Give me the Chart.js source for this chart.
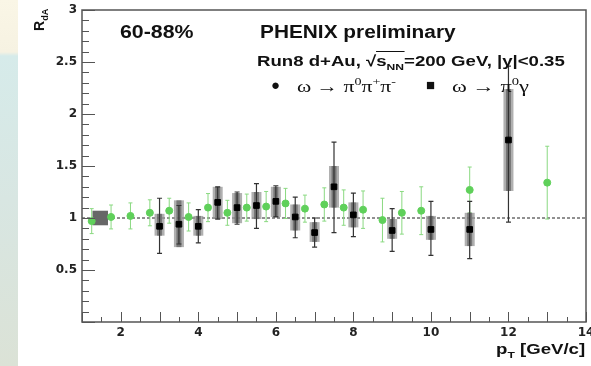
<!DOCTYPE html>
<html>
<head>
<meta charset="utf-8">
<script src="https://cdn.jsdelivr.net/npm/chart.js@4"></script>
<style>
  body { margin: 0; background: #fff; }
  #wrap { position: relative; width: 591px; height: 366px; overflow: hidden; font-family: "Liberation Sans", Arial, sans-serif; }
  #strip { position: absolute; left: 0; top: 0; width: 18px; height: 366px;
    background: linear-gradient(to bottom, #faf6e6 0px, #f6f2e2 52px, #d6ebea 56px, #d8e6e2 200px, #dbe2d6 366px); }
  #chartBox { position: absolute; left: 0; top: 0; width: 591px; height: 366px; }
  .lbl { position: absolute; white-space: nowrap; font-weight: bold; color: #111; transform-origin: left top; }
  .serif { font-family: "Liberation Serif", "DejaVu Serif", serif; font-weight: normal; }
  sub, sup { font-size: 65%; }
</style>
</head>
<body>
<div id="wrap">
  <div id="strip"></div>
  <div id="chartBox"><canvas id="rdaChart" width="591" height="366"></canvas></div>
  <div class="lbl" style="left:120px; top:22px; font-size:17.5px; transform:scaleX(1.22);">60-88%</div>
  <div class="lbl" style="left:260px; top:22px; font-size:17.5px; transform:scaleX(1.19);">PHENIX preliminary</div>
  <div class="lbl" style="left:257px; top:52px; font-size:15px; transform:scaleX(1.24);">Run8 d+Au, &radic;<span style="border-top:1.5px solid #111;">s<sub>NN</sub></span>=200 GeV, |y|&lt;0.35</div>
  <div class="lbl" style="left:271px; top:76px; font-size:15px;">&#9679;</div>
  <div class="lbl serif" style="left:297px; top:75px; font-size:17px; transform:scaleX(1.27);">&omega; &rarr; &pi;<sup>0</sup>&pi;<sup>+</sup>&pi;<sup>-</sup></div>
  <div class="lbl" style="left:426px; top:76px; font-size:15px;">&#9632;</div>
  <div class="lbl serif" style="left:452px; top:75px; font-size:17px; transform:scaleX(1.32);">&omega; &rarr; &pi;<sup>0</sup>&gamma;</div>
  <div class="lbl" style="left:31px; top:31px; font-size:14px; transform:rotate(-90deg);">R<sub>dA</sub></div>
  <div class="lbl" style="left:496px; top:341px; font-size:14px; transform:scaleX(1.33);">p<sub>T</sub> [GeV/c]</div>
</div>
<script>
// omega -> pi0 pi+ pi- (green points, symmetric errors)
const greenX = [1.25, 1.75, 2.25, 2.75, 3.25, 3.75, 4.25, 4.75, 5.25, 5.75, 6.25, 6.75, 7.25, 7.75, 8.25, 8.75, 9.25, 9.75, 11, 13];
const greenY = [0.97, 1.01, 1.02, 1.05, 1.07, 1.01, 1.10, 1.05, 1.10, 1.11, 1.14, 1.09, 1.13, 1.10, 1.08, 0.98, 1.05, 1.07, 1.27, 1.34];
const greenErr = [0.12, 0.115, 0.125, 0.125, 0.12, 0.135, 0.135, 0.12, 0.13, 0.145, 0.145, 0.13, 0.16, 0.17, 0.18, 0.21, 0.205, 0.23, 0.22, 0.35];

// omega -> pi0 gamma (black squares, stat bars + syst boxes)
const blackX = [3, 3.5, 4, 4.5, 5, 5.5, 6, 6.5, 7, 7.5, 8, 9, 10, 11, 12];
const blackY = [0.92, 0.94, 0.92, 1.15, 1.10, 1.12, 1.16, 1.01, 0.86, 1.30, 1.03, 0.88, 0.89, 0.89, 1.75];
const statLo = [0.66, 0.75, 0.76, 0.99, 0.94, 0.90, 1.01, 0.81, 0.72, 0.86, 0.82, 0.68, 0.64, 0.61, 0.96];
const statHi = [1.19, 1.12, 1.08, 1.30, 1.25, 1.33, 1.31, 1.20, 1.00, 1.73, 1.24, 1.09, 1.16, 1.16, 2.46];
const sysLo = [0.83, 0.72, 0.83, 0.99, 0.95, 0.99, 1.01, 0.88, 0.77, 1.10, 0.91, 0.80, 0.79, 0.73, 1.26];
const sysHi = [1.04, 1.17, 1.02, 1.30, 1.24, 1.25, 1.30, 1.13, 0.96, 1.50, 1.15, 0.99, 1.02, 1.05, 2.24];

// global normalisation box
const normBox = { x0: 1.27, x1: 1.67, y0: 0.93, y1: 1.07 };
const xTickLabels = [2, 4, 6, 8, 10, 12, 14];
const yTickLabels = [0.5, 1, 1.5, 2, 2.5, 3];

const near = (a, b) => Math.abs(a - b) < 1e-6;

const errorPlugin = {
  id: "errors",
  beforeDatasetsDraw(chart) {
    const { ctx, chartArea: a, scales: { x, y } } = chart;
    ctx.save();
    // reference line at 1
    ctx.strokeStyle = "#222";
    ctx.lineWidth = 1;
    ctx.setLineDash([3, 2]);
    ctx.beginPath();
    ctx.moveTo(a.left, y.getPixelForValue(1));
    ctx.lineTo(a.right, y.getPixelForValue(1));
    ctx.stroke();
    ctx.setLineDash([]);

    // norm box
    ctx.fillStyle = "#676767";
    const nx0 = x.getPixelForValue(normBox.x0), nx1 = x.getPixelForValue(normBox.x1);
    const ny0 = y.getPixelForValue(normBox.y1), ny1 = y.getPixelForValue(normBox.y0);
    ctx.fillRect(nx0, ny0, nx1 - nx0, ny1 - ny0);

    // green error bars
    ctx.strokeStyle = "#8ad981";
    ctx.lineWidth = 1;
    greenX.forEach((v, i) => {
      const px = x.getPixelForValue(v);
      const top = y.getPixelForValue(greenY[i] + greenErr[i]);
      const bot = y.getPixelForValue(greenY[i] - greenErr[i]);
      ctx.beginPath();
      ctx.moveTo(px, top); ctx.lineTo(px, bot);
      ctx.moveTo(px - 2, top); ctx.lineTo(px + 2, top);
      ctx.moveTo(px - 2, bot); ctx.lineTo(px + 2, bot);
      ctx.stroke();
    });

    // syst boxes
    blackX.forEach((v, i) => {
      const px = x.getPixelForValue(v);
      const top = y.getPixelForValue(sysHi[i]);
      const bot = y.getPixelForValue(sysLo[i]);
      ctx.fillStyle = "rgba(150,150,150,0.75)";
      ctx.fillRect(px - 5, top, 10, bot - top);
      ctx.fillStyle = "rgba(95,95,95,0.7)";
      ctx.fillRect(px - 2.5, top, 5, bot - top);
    });

    // stat bars
    ctx.strokeStyle = "#333";
    ctx.lineWidth = 1.2;
    blackX.forEach((v, i) => {
      const px = x.getPixelForValue(v);
      const top = y.getPixelForValue(statHi[i]);
      const bot = y.getPixelForValue(statLo[i]);
      ctx.beginPath();
      ctx.moveTo(px, top); ctx.lineTo(px, bot);
      ctx.moveTo(px - 2.5, top); ctx.lineTo(px + 2.5, top);
      ctx.moveTo(px - 2.5, bot); ctx.lineTo(px + 2.5, bot);
      ctx.stroke();
    });
    ctx.restore();
  },
  afterDraw(chart) {
    const { ctx, chartArea: a, scales: { x, y } } = chart;
    ctx.save();
    ctx.strokeStyle = "#555";
    ctx.lineWidth = 1.5;
    ctx.strokeRect(a.left, a.top, a.right - a.left, a.bottom - a.top);
    ctx.lineWidth = 1;
    ctx.beginPath();
    y.ticks.forEach(t => {
      const py = Math.round(y.getPixelForValue(t.value)) + 0.5;
      const len = near(t.value * 2, Math.round(t.value * 2)) ? 13 : 7;
      ctx.moveTo(a.left, py); ctx.lineTo(a.left + len, py);
    });
    x.ticks.forEach(t => {
      const px = Math.round(x.getPixelForValue(t.value)) + 0.5;
      const len = near(t.value, Math.round(t.value)) ? 10 : 5;
      ctx.moveTo(px, a.bottom); ctx.lineTo(px, a.bottom - len);
    });
    ctx.stroke();
    ctx.restore();
  }
};

const tickFont = { family: "'DejaVu Sans', sans-serif", size: 12, weight: "bold" };

new Chart(document.getElementById("rdaChart").getContext("2d"), {
  type: "scatter",
  data: {
    datasets: [
      {
        label: "omega -> pi0 pi+ pi-",
        data: greenX.map((v, i) => ({ x: v, y: greenY[i] })),
        backgroundColor: "#5fd05a",
        borderColor: "#5fd05a",
        pointRadius: 3.5,
        pointHoverRadius: 3.5,
      },
      {
        label: "omega -> pi0 gamma",
        data: blackX.map((v, i) => ({ x: v, y: blackY[i] })),
        backgroundColor: "#000",
        borderColor: "#000",
        pointStyle: "rect",
        pointRadius: 4,
        pointHoverRadius: 4,
      },
    ],
  },
  options: {
    responsive: false,
    animation: false,
    layout: { padding: { top: 10, right: 5, left: 0, bottom: 0 } },
    plugins: { legend: { display: false }, tooltip: { enabled: false } },
    scales: {
      x: {
        type: "linear",
        min: 1,
        max: 14,
        grid: { display: false, drawTicks: false },
        border: { display: false },
        afterFit: s => { s.height = 44; s.paddingRight = 0; s.paddingLeft = 0; },
        ticks: {
          stepSize: 0.5,
          autoSkip: false,
          maxRotation: 0,
          padding: 4,
          color: "#222",
          font: tickFont,
          callback: v => (xTickLabels.some(t => near(t, v)) ? String(Math.round(v)) : ""),
        },
      },
      y: {
        min: 0,
        max: 3,
        grid: { display: false, drawTicks: false },
        border: { display: false },
        afterFit: s => { s.width = 82; s.paddingTop = 0; s.paddingBottom = 0; },
        ticks: {
          stepSize: 0.1,
          autoSkip: false,
          padding: 5,
          color: "#222",
          font: tickFont,
          callback: v => (yTickLabels.some(t => near(t, v)) ? String(Math.round(v * 10) / 10) : ""),
        },
      },
    },
  },
  plugins: [errorPlugin],
});
</script>
</body>
</html>
